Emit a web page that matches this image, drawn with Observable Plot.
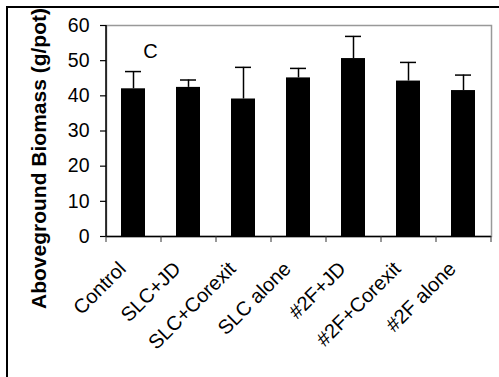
<!DOCTYPE html>
<html><head><meta charset="utf-8">
<script src="https://cdn.jsdelivr.net/npm/d3@7"></script>
<script src="https://cdn.jsdelivr.net/npm/@observablehq/plot@0.6"></script>
<style>
body{margin:0;background:#fff;}
#wrap{position:relative;width:499px;height:377px;overflow:hidden;background:#fff;}
#wrap svg{position:absolute;left:0;top:0;}
#border{position:absolute;left:6px;top:6px;right:-10px;bottom:-10px;border-top:2px solid #000;border-left:2px solid #000;pointer-events:none;}
</style></head><body><div id="wrap"><div id="border"></div></div>
<script>
const categories = ["Control","SLC+JD","SLC+Corexit","SLC alone","#2F+JD","#2F+Corexit","#2F alone"];
const means = [42.0, 42.4, 39.1, 45.1, 50.6, 44.2, 41.5];
const errors = [4.9, 2.1, 9.0, 2.7, 6.3, 5.3, 4.4];
const yTicks = [0, 10, 20, 30, 40, 50, 60];
const yLabel = "Aboveground Biomass (g/pot)";
const panelLabel = "C";

const data = categories.map((c, i) => ({c, m: means[i], top: means[i] + errors[i]}));
const W = 499, H = 377, mL = 106, mR = 8, mT = 25, mB = 141;
const step = (W - mL - mR) / categories.length;
const font = "'Liberation Sans', Arial, sans-serif";

const chart = Plot.plot({
  width: W, height: H,
  marginLeft: mL, marginRight: mR, marginTop: mT, marginBottom: mB,
  style: {fontFamily: font, fontSize: "19px", background: "transparent", color: "#000", overflow: "visible"},
  x: {domain: categories, paddingInner: 0.56, paddingOuter: 0.28, axis: null},
  y: {domain: [0, 60], axis: null},
  marks: [
    Plot.frame({stroke: "#999", strokeWidth: 1.5}),
    Plot.barY(data, {x: "c", y: "m", fill: "#000"}),
    Plot.ruleX(data, {x: "c", y1: "m", y2: "top", stroke: "#000", strokeWidth: 1.5}),
    Plot.tickY(data, {x: "c", y: "top", stroke: "#000", strokeWidth: 1.5, insetLeft: 4, insetRight: 4}),
    Plot.ruleY([0], {stroke: "#000", strokeWidth: 1.5}),
    Plot.ruleX([categories[0]], {x: d => d, y1: 0, y2: 60, dx: -step / 2, stroke: "#000", strokeWidth: 1.5}),
    Plot.axisY({ticks: yTicks, tickSize: 6, tickPadding: 11, label: null, fontSize: 19.5, stroke: "#000", strokeWidth: 1.2}),
    Plot.axisX({ticks: categories, tickSize: 6, text: null, label: null, dx: -step / 2, stroke: "#333"}),
    Plot.axisX({ticks: [categories[categories.length - 1]], tickSize: 6, text: null, label: null, dx: step / 2, stroke: "#333"}),
    Plot.axisX({ticks: categories, tickSize: 0, tickPadding: 29, tickRotate: -45, label: null, fontSize: 20, dx: -11}),
    Plot.text([yLabel], {text: d => d, frameAnchor: "left", textAnchor: "middle", lineAnchor: "middle", rotate: -90, dx: -67, dy: 27.5, fontWeight: "bold", fontSize: 21}),
    Plot.text([panelLabel], {text: d => d, frameAnchor: "top-left", textAnchor: "middle", lineAnchor: "middle", dx: 44, dy: 26.5, fontSize: 20})
  ]
});
document.getElementById("wrap").insertBefore(chart, document.getElementById("border"));
</script>
</body></html>
